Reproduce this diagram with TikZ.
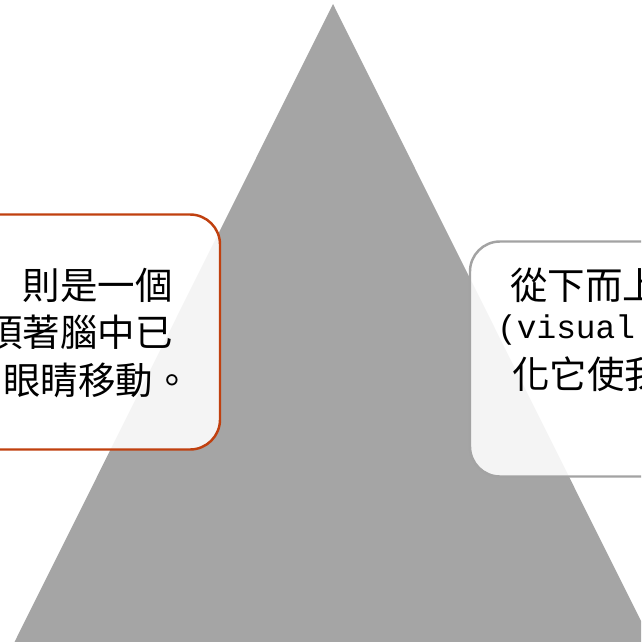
\documentclass[tikz,border=0pt]{standalone}
\usepackage{fontspec}
\newfontfamily\cjkfont{Noto Sans CJK TC}
\newfontfamily\latinmono{Liberation Mono}
\definecolor{trigray}{HTML}{A5A5A5}
\definecolor{rustred}{HTML}{C0400F}
\definecolor{edgegray}{HTML}{A3A3A3}
\begin{document}
\begin{tikzpicture}[x=0.03cm, y=-0.03cm,
    panel/.style={draw, line width=2.1pt, rounded corners=0.9cm, fill=white, fill opacity=0.88,
        minimum width=13.5cm, minimum height=7.05cm, inner sep=0pt},
    line/.style={inner sep=0pt, font=\cjkfont\fontsize{32pt}{40pt}\selectfont}]
    \useasboundingbox (0, 0) rectangle (641, 642);
    \clip (0, 0) rectangle (641, 642);

    \fill[trigray] (333, 4) -- (652, 643) -- (14, 643) -- cycle;

    \node[panel, draw=rustred] (LB) at (-5, 332) {};
    \node[panel, draw=edgegray] (RB) at (695, 359) {};

    \node[line, anchor=east] (L1) at (173, 285) {則是一個};
    \node[line, anchor=east] (L2) at (173, 332) {須著腦中已};
    \node[line, anchor=east] (L3) at (191, 380) {眼睛移動。};

    \node[line, anchor=west] (R1) at (510, 285) {從下而上};
    \node[inner sep=0pt, anchor=west, font=\latinmono\fontsize{28pt}{34pt}\selectfont] (R2) at (497, 330) {(visual};
    \node[line, anchor=west] (R3) at (512, 374) {化它使我};
\end{tikzpicture}
\end{document}
